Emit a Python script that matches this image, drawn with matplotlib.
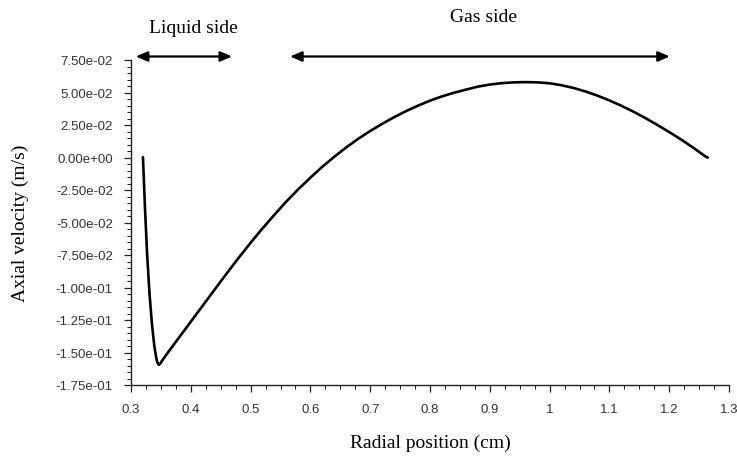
import matplotlib
matplotlib.use("Agg")
import matplotlib.pyplot as plt
from matplotlib.ticker import MultipleLocator, FuncFormatter

# Axial velocity profile across the annulus
radial_cm = [0.320, 0.3235, 0.327, 0.331, 0.335, 0.339, 0.342, 0.344, 0.3465,
             0.349, 0.352, 0.360, 0.380, 0.400, 0.420, 0.440, 0.460, 0.480,
             0.500, 0.520, 0.540, 0.560, 0.580, 0.600, 0.620, 0.640, 0.660,
             0.680, 0.700, 0.720, 0.740, 0.760, 0.780, 0.800, 0.820, 0.840,
             0.860, 0.880, 0.900, 0.920, 0.940, 0.960, 0.980, 1.000, 1.020,
             1.040, 1.060, 1.080, 1.100, 1.120, 1.140, 1.160, 1.180, 1.200,
             1.220, 1.240, 1.260, 1.264]
axial_vel = [0.000, -0.040, -0.075, -0.105, -0.128, -0.145, -0.1535, -0.1575, -0.1595,
             -0.1585, -0.1563, -0.1511, -0.1387, -0.1263, -0.1139, -0.1015, -0.0892, -0.0772,
             -0.0656, -0.0545, -0.0440, -0.0337, -0.0243, -0.0155, -0.0071, 0.0006, 0.0078,
             0.0144, 0.0204, 0.0259, 0.0310, 0.0357, 0.0399, 0.0437, 0.0470, 0.0498,
             0.0522, 0.0545, 0.0561, 0.0572, 0.0578, 0.0580, 0.0578, 0.0571, 0.0556,
             0.0535, 0.0508, 0.0476, 0.0439, 0.0398, 0.0353, 0.0304, 0.0251, 0.0196,
             0.0138, 0.0076, 0.0010, 0.000]

# Region markers drawn above the plot
liquid_span = (0.308, 0.469)
gas_span = (0.566, 1.201)
region_labels = ["Liquid side", "Gas side"]

x_range = (0.3, 1.3)
y_range = (-0.175, 0.075)

serif = ["Liberation Serif", "DejaVu Serif"]
sans = ["Liberation Sans", "DejaVu Sans"]

fig = plt.figure(figsize=(7.37, 4.64), dpi=100)
ax = fig.add_axes([131 / 737, 1 - 386 / 464, (729 - 131) / 737, (386 - 61) / 464])

ax.plot(radial_cm, axial_vel, color="black", lw=1.9, solid_joinstyle="round")

ax.set_xlim(*x_range)
ax.set_ylim(*y_range)

for side in ("top", "right"):
    ax.spines[side].set_visible(False)
for side in ("left", "bottom"):
    ax.spines[side].set_color("#222222")
    ax.spines[side].set_linewidth(1.0)

ax.xaxis.set_major_locator(MultipleLocator(0.1))
ax.xaxis.set_minor_locator(MultipleLocator(0.025))
ax.yaxis.set_major_locator(MultipleLocator(0.025))
ax.yaxis.set_minor_locator(MultipleLocator(0.005))
ax.xaxis.set_major_formatter(FuncFormatter(lambda v, p: f"{v:g}"))
ax.yaxis.set_major_formatter(FuncFormatter(lambda v, p: f"{v:.2e}"))

ax.tick_params(axis="both", which="major", direction="out", length=5, width=0.9,
               color="#222222", labelsize=9.5, labelcolor="#333333")
ax.tick_params(axis="both", which="minor", direction="out", length=3, width=0.8,
               color="#222222")
ax.tick_params(axis="y", which="major", pad=8)
ax.tick_params(axis="x", which="major", pad=8)
for lab in ax.get_xticklabels() + ax.get_yticklabels():
    lab.set_family(sans)

ax.set_xlabel("Radial position (cm)", fontsize=14, family=serif)
ax.set_ylabel("Axial velocity (m/s)", fontsize=14, family=serif)
ax.xaxis.set_label_coords(0.5, (386 - 435) / 325)
ax.yaxis.set_label_coords((29 - 131) / 598, 0.5)

arrow_y = 0.0777
arrow_kw = dict(arrowstyle="<|-|>,head_length=0.7,head_width=0.3", color="black",
                lw=1.6, shrinkA=0, shrinkB=0)
for (x0, x1) in (liquid_span, gas_span):
    ax.annotate("", xy=(x0, arrow_y), xytext=(x1, arrow_y), xycoords="data",
                arrowprops=arrow_kw, annotation_clip=False)

ax.text(0.404, 0.1, region_labels[0], ha="center", va="center", fontsize=14,
        family=serif, clip_on=False)
ax.text(0.889, 0.1085, region_labels[1], ha="center", va="center", fontsize=14,
        family=serif, clip_on=False)

fig.savefig("out.png", dpi=100, facecolor="white")
